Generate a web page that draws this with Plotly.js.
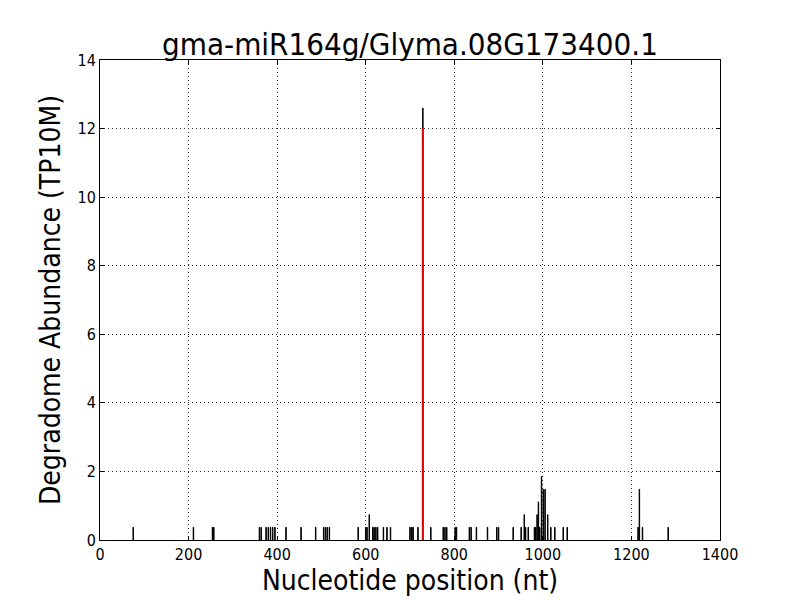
<!DOCTYPE html>
<html>
<head>
<meta charset="utf-8">
<script src="https://cdn.plot.ly/plotly-3.0.1.min.js"></script>
<style>html,body{margin:0;padding:0;background:#fff;}#chart{width:800px;height:600px;}</style>
</head>
<body>
<div id="chart"></div>
<script>
// Degradome read positions (nt) and abundances (TP10M)
const positions = [75, 211, 254, 257, 360, 364, 375, 380, 385, 390, 395, 420, 454, 487, 505, 509, 513, 518,
  583, 600, 603, 608, 616, 619, 623, 627, 640, 648, 656, 700, 704, 707, 718, 729, 747, 775, 779, 783,
  802, 805, 834, 838, 850, 875, 896, 900, 933, 951, 958, 961, 967, 981, 984, 987, 990, 993, 997, 1001,
  1005, 1011, 1018, 1027, 1046, 1055, 1215, 1218, 1225, 1283];
const abundance = [0.37, 0.37, 0.37, 0.37, 0.37, 0.37, 0.37, 0.37, 0.37, 0.37, 0.37, 0.37, 0.37, 0.37, 0.37, 0.37, 0.37, 0.37,
  0.37, 0.37, 0.37, 0.74, 0.37, 0.37, 0.37, 0.37, 0.37, 0.37, 0.37, 0.37, 0.37, 0.37, 0.37, 12.6, 0.37, 0.37, 0.37, 0.37,
  0.37, 0.37, 0.37, 0.37, 0.37, 0.37, 0.37, 0.37, 0.37, 0.37, 0.74, 0.37, 0.37, 0.37, 0.37, 0.74, 1.11, 0.37, 1.85, 1.48,
  1.48, 0.74, 0.37, 0.37, 0.37, 0.37, 0.37, 1.48, 0.37, 0.37];
// Cleavage site
const cleavagePos = [729];
const cleavageVal = [12.0];

const xTicks = [0, 200, 400, 600, 800, 1000, 1200, 1400];
const yTicks = [0, 2, 4, 6, 8, 10, 12, 14];

const font = 'DejaVu Sans Condensed, DejaVu Sans, sans-serif';

const traces = [
  {type: 'bar', x: positions, y: abundance, width: 1,
   marker: {color: 'black', line: {color: 'black', width: 1}}, hoverinfo: 'x+y'},
  {type: 'bar', x: cleavagePos, y: cleavageVal, width: 3,
   marker: {color: '#ff0000', line: {color: '#ff0000', width: 0.5}}, hoverinfo: 'x+y'}
];

const axisCommon = {
  showline: true, linecolor: 'black', linewidth: 1, mirror: 'ticks',
  ticks: 'inside', ticklen: 4, tickcolor: 'black', tickwidth: 1,
  showgrid: true, gridcolor: '#333333', gridwidth: 1, griddash: '1px,3px',
  zeroline: false, tickfont: {family: font, size: 16, color: 'black'}
};

const layout = {
  width: 800, height: 600,
  paper_bgcolor: 'white', plot_bgcolor: 'white',
  margin: {l: 100, r: 80, t: 60, b: 60},
  showlegend: false, barmode: 'overlay', bargap: 0,
  title: {text: 'gma-miR164g/Glyma.08G173400.1', font: {family: font, size: 31, color: 'black'},
          x: 0.5, xref: 'paper', y: 0.927, yanchor: 'middle'},
  xaxis: Object.assign({}, axisCommon, {
    range: [0, 1400], tickvals: xTicks, ticktext: xTicks.map(String),
    title: {text: 'Nucleotide position (nt)', font: {family: font, size: 28, color: 'black'}, standoff: 6}
  }),
  yaxis: Object.assign({}, axisCommon, {
    range: [0, 14], tickvals: yTicks, ticktext: yTicks.map(String),
    title: {text: 'Degradome Abundance (TP10M)', font: {family: font, size: 28, color: 'black'}, standoff: 8}
  })
};

Plotly.newPlot('chart', traces, layout, {displayModeBar: false, staticPlot: true});
</script>
</body>
</html>
